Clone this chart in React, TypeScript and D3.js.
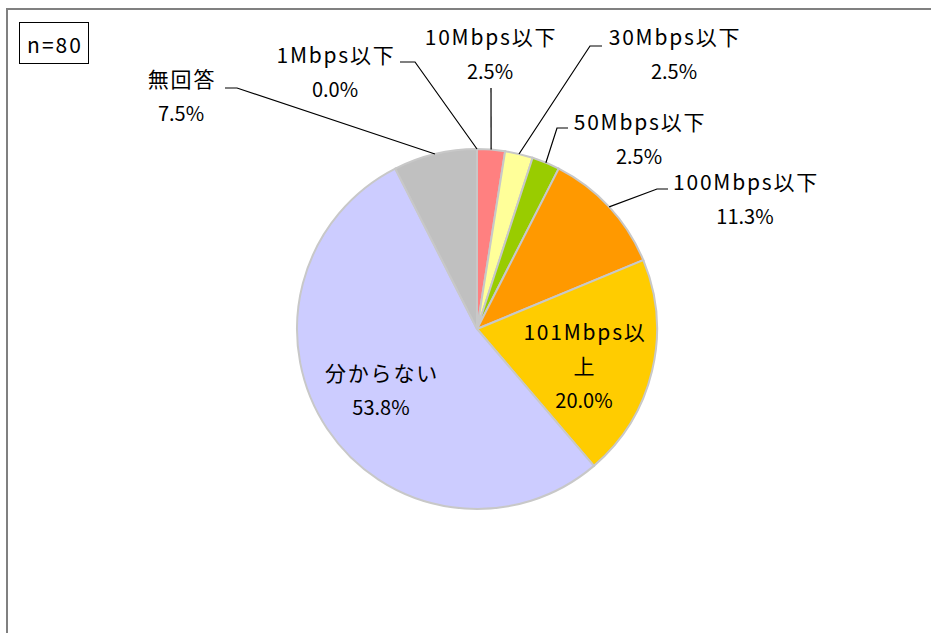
import React from "react";
import * as d3 from "d3";

const categories = ["1Mbps以下", "10Mbps以下", "30Mbps以下", "50Mbps以下", "100Mbps以下", "101Mbps以上", "分からない", "無回答"];
const counts = [0, 2, 2, 2, 9, 16, 43, 6];
const percentLabels = ["0.0%", "2.5%", "2.5%", "2.5%", "11.3%", "20.0%", "53.8%", "7.5%"];
const colors = ["#4F81BD", "#FF8080", "#FFFF99", "#99CC00", "#FF9900", "#FFCC00", "#CCCCFF", "#C0C0C0"];
const sampleLabel = "n=80";

// label layout: x center, baseline of first line, wrapped name lines, leader elbow points
type Lay = { x: number; y: number; lines: string[]; elbow?: [number, number][] };
const labelLayout: Lay[] = [
  { x: 335, y: 63, lines: ["1Mbps以下"], elbow: [[400, 62], [415, 62]] },
  { x: 490, y: 45, lines: ["10Mbps以下"], elbow: [[491, 88]] },
  { x: 674, y: 45, lines: ["30Mbps以下"], elbow: [[602, 46], [590, 46]] },
  { x: 639, y: 130, lines: ["50Mbps以下"], elbow: [[568, 128], [557, 128]] },
  { x: 745, y: 190, lines: ["100Mbps以下"], elbow: [[668, 189], [657, 189]] },
  { x: 584, y: 340, lines: ["101Mbps以", "上"] },
  { x: 381, y: 381, lines: ["分からない"] },
  { x: 181, y: 87, lines: ["無回答"], elbow: [[225, 88], [237, 88]] },
];

export default function App() {
  const W = 931, H = 633;
  const cx = 477, cy = 329, r = 180;
  const pie = d3.pie<number>().sort(null).value((d) => d);
  const arcs = pie(counts);
  const arc = d3.arc<d3.PieArcDatum<number>>().innerRadius(0).outerRadius(r);
  const font = "'Noto Sans CJK JP', 'Noto Sans', sans-serif";
  const pitch = 34;
  return (
    <svg width={W} height={H} style={{ position: "absolute", left: 0, top: 0 }}>
      <rect x={0} y={0} width={W} height={H} fill="#fff" />
      <rect x={7} y={9} width={940} height={650} fill="#fff" stroke="#808080" strokeWidth={2} />
      <g transform={`translate(${cx},${cy})`}>
        {arcs.map((a, i) =>
          a.value > 0 ? (
            <path key={i} d={arc(a) || ""} fill={colors[i]} stroke="#C8C8C8" strokeWidth={2} />
          ) : null
        )}
      </g>
      {arcs.map((a, i) => {
        const L = labelLayout[i];
        if (!L.elbow) return null;
        const mid = (a.startAngle + a.endAngle) / 2;
        const ex = cx + r * Math.sin(mid);
        const ey = cy - r * Math.cos(mid);
        const pts: [number, number][] = [...L.elbow, [ex, ey]];
        return <path key={"l" + i} d={d3.line()(pts) || ""} fill="none" stroke="#000" strokeWidth={1.2} />;
      })}
      {labelLayout.map((L, i) => (
        <g key={"t" + i} fontFamily={font} textAnchor="middle" fill="#000">
          {L.lines.map((ln, j) => (
            <text key={j} x={L.x + 1} y={L.y + j * pitch} fontSize={21} letterSpacing={1.8}>{ln}</text>
          ))}
          <text x={L.x} y={L.y + L.lines.length * pitch} fontSize={20}>{percentLabels[i]}</text>
        </g>
      ))}
      <rect x={19.5} y={22.5} width={69} height={41} fill="#fff" stroke="#000" strokeWidth={1} />
      <text x={55} y={53} fontFamily={font} fontSize={21} letterSpacing={2} textAnchor="middle">{sampleLabel}</text>
    </svg>
  );
}
